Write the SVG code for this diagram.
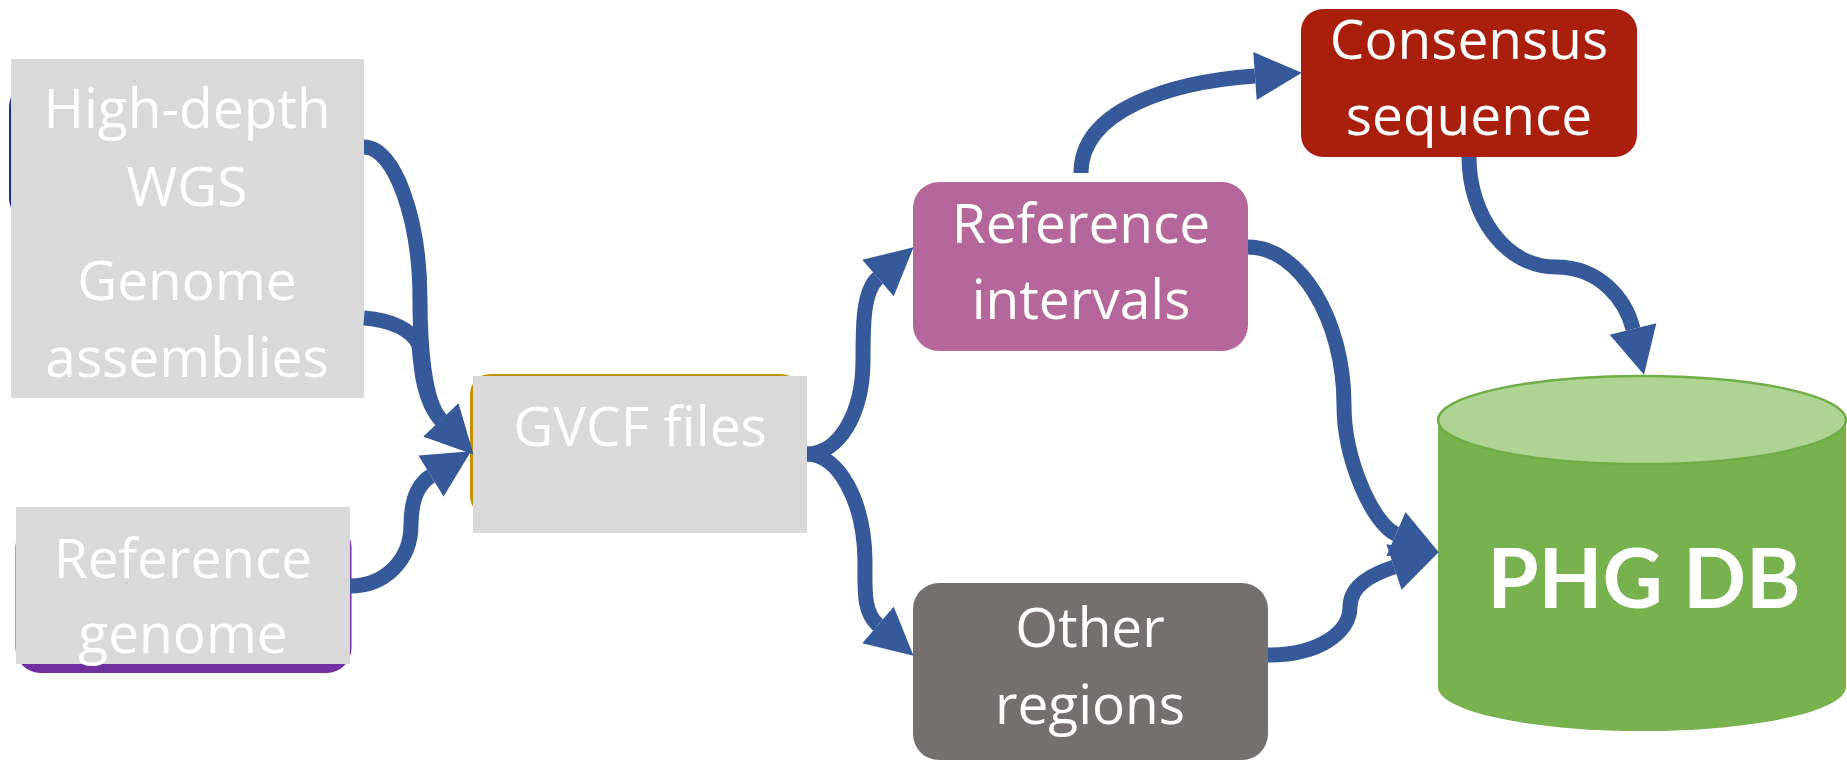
<svg xmlns="http://www.w3.org/2000/svg" width="1847" height="761" viewBox="0 0 1847 761">
  <style>
    .lbl { font-family: "Open Sans", "Liberation Sans", sans-serif; font-size: 55px; fill: #ffffff; text-anchor: middle; }
    .db-lbl { font-family: "Lato", "Open Sans", "Liberation Sans", sans-serif; font-weight: 700; font-size: 83px; fill: #ffffff; text-anchor: middle; }
    .cover { fill: #D9D9D9; }
    .link { fill: none; stroke: #36599A; stroke-width: 15; marker-end: url(#head); }
    .link-plain { fill: none; stroke: #36599A; stroke-width: 15; }
  </style>
  <defs>
    <marker id="head" markerUnits="userSpaceOnUse" markerWidth="48" markerHeight="48" viewBox="0 0 48 48" refX="0" refY="24" orient="auto" overflow="visible">
      <path d="M0,0 L47,24 L0,48 Z" fill="#36599A"/>
    </marker>
  </defs>

  <rect width="1847" height="761" fill="#ffffff"/>

  <!-- input panel: sequencing data and assemblies share one grey cover -->
  <g id="input-panel">
    <rect x="9" y="82" width="200" height="141" rx="25" fill="#1F2A96"/>
    <rect class="cover" x="11" y="59" width="353" height="339"/>
    <g id="node-wgs">
      <text class="lbl" x="187" y="128">High-depth</text>
      <text class="lbl" x="187" y="206">WGS</text>
    </g>
    <g id="node-assemblies">
      <text class="lbl" x="187" y="300">Genome</text>
      <text class="lbl" x="187" y="377">assemblies</text>
    </g>
  </g>

  <g id="node-reference-genome">
    <rect x="15.5" y="522" width="336" height="151" rx="25" fill="#7030A0"/>
    <rect class="cover" x="16" y="507" width="334" height="157"/>
    <text class="lbl" x="183" y="578">Reference</text>
    <text class="lbl" x="183" y="653">genome</text>
  </g>

  <g id="node-gvcf">
    <rect x="470" y="374" width="331" height="142" rx="20" fill="#C29100"/>
    <rect class="cover" x="473" y="376" width="334" height="157"/>
    <text class="lbl" x="640" y="446">GVCF files</text>
  </g>

  <g id="node-reference-intervals">
    <rect x="913" y="182" width="335" height="169" rx="26" fill="#B5679A"/>
    <text class="lbl" x="1081" y="243">Reference</text>
    <text class="lbl" x="1081" y="319">intervals</text>
  </g>

  <g id="node-other-regions">
    <rect x="913" y="583" width="355" height="177" rx="26" fill="#74706F"/>
    <text class="lbl" x="1090" y="647">Other</text>
    <text class="lbl" x="1090" y="724">regions</text>
  </g>

  <g id="node-consensus">
    <rect x="1301" y="9" width="336" height="148" rx="22" fill="#AA1E0C"/>
    <text class="lbl" x="1469" y="59">Consensus</text>
    <text class="lbl" x="1469" y="135">sequence</text>
  </g>

  <!-- database cylinder -->
  <g id="node-phg-db">
    <path d="M1438,420 L1438,687 A204,44 0 0 0 1846,687 L1846,420 Z" fill="#77B24F"/>
    <ellipse cx="1642" cy="420" rx="204" ry="44" fill="#AED494" stroke="#70AD47" stroke-width="2.5"/>
    <text class="db-lbl" x="1644" y="608">PHG DB</text>
  </g>

  <g id="connectors">
    <!-- into GVCF files -->
    <path class="link" d="M364,147 C395,147 420,220 420,300 C420,345 424,402 441,420"/>
    <path class="link" d="M364,318 C392,320 412,330 419,345 C421,370 424,402 441,420"/>
    <path class="link" d="M350,586 C385,586 411,560 411,525 C411,500 418,484 431,476"/>
    <!-- out of GVCF files -->
    <path class="link" d="M807,454 C838,454 863,415 863,360 C863,325 863,291 878,278"/>
    <path class="link" d="M807,454 C838,454 864,500 865,560 C865,590 863,612 878,625"/>
    <!-- reference intervals to consensus -->
    <path class="link" d="M1081,173 C1081,110 1170,82 1255,76"/>
    <!-- into the database -->
    <path class="link" d="M1469,157 C1469,215 1505,267 1556,267 C1600,267 1626,300 1633,329"/>
    <path class="link" d="M1248,247 C1300,247 1344,320 1344,405 C1344,460 1373,524 1396,534"/>
    <path class="link" d="M1268,655 C1320,655 1350,632 1350,607 C1350,585 1373,574 1394,567"/>
  </g>
</svg>
